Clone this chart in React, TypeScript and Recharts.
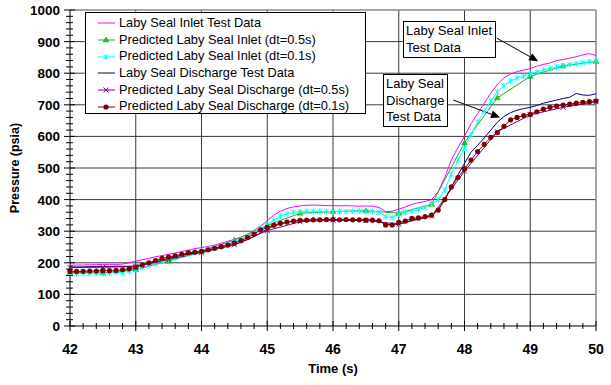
import { LineChart, Line, XAxis, YAxis, CartesianGrid, ReferenceLine } from 'recharts';

// time base (s) for test data and dt=0.1s predictions
const time = [
  42.0, 42.1, 42.2, 42.3, 42.4, 42.5, 42.6, 42.7, 42.8, 42.9,
  43.0, 43.1, 43.2, 43.3, 43.4, 43.5, 43.6, 43.7, 43.8, 43.9,
  44.0, 44.1, 44.2, 44.3, 44.4, 44.5, 44.6, 44.7, 44.8, 44.9,
  45.0, 45.1, 45.2, 45.3, 45.4, 45.5, 45.6, 45.7, 45.8, 45.9,
  46.0, 46.1, 46.2, 46.3, 46.4, 46.5, 46.6, 46.7, 46.8, 46.9,
  47.0, 47.1, 47.2, 47.3, 47.4, 47.5, 47.6, 47.7, 47.8, 47.9,
  48.0, 48.1, 48.2, 48.3, 48.4, 48.5, 48.6, 48.7, 48.8, 48.9,
  49.0, 49.1, 49.2, 49.3, 49.4, 49.5, 49.6, 49.7, 49.8, 49.9,
  50.0,
];

const inletTest = [
  192, 193, 193, 194, 194, 195, 195, 195, 196, 200,
  205, 210, 214, 219, 223, 227, 231, 236, 240, 245,
  248, 252, 256, 262, 268, 274, 281, 290, 302, 316,
  333, 351, 363, 372, 377, 380, 382, 383, 382, 381,
  381, 380, 381, 380, 379, 380, 379, 375, 362, 363,
  370, 377, 385, 390, 394, 400, 425, 470, 525, 565,
  600, 640, 672, 705, 737, 765, 785, 797, 805, 810,
  815, 822, 828, 832, 840, 843, 848, 852, 858, 862,
  856,
];

const inletPred01 = [
  166, 166, 167, 167, 168, 168, 168, 169, 170, 173,
  178, 185, 192, 199, 205, 211, 216, 222, 228, 233,
  237, 242, 247, 252, 258, 265, 273, 283, 295, 307,
  320, 335, 348, 355, 360, 362, 363, 363, 363, 362,
  362, 363, 362, 363, 364, 363, 363, 360, 346, 343,
  355, 360, 363, 368, 375, 385, 400, 430, 480, 525,
  562, 605, 645, 680, 712, 740, 760, 775, 785, 790,
  797, 804, 810, 815, 820, 824, 828, 830, 833, 836,
  838,
];

const dischTest = [
  187, 187, 187, 188, 188, 188, 188, 189, 189, 189,
  190, 194, 199, 203, 208, 214, 219, 224, 228, 231,
  233, 238, 243, 248, 253, 258, 265, 273, 283, 295,
  307, 316, 323, 328, 332, 334, 335, 336, 336, 335,
  336, 335, 336, 335, 336, 335, 335, 333, 322, 320,
  322, 328, 335, 340, 344, 350, 368, 400, 440, 478,
  515, 550, 572, 595, 620, 645, 663, 675, 683, 688,
  692, 698, 705, 710, 715, 720, 724, 736, 731, 730,
  735,
];

const dischPred01 = [
  173, 173, 173, 174, 174, 175, 175, 176, 178, 181,
  186, 193, 200, 207, 214, 218, 222, 227, 232, 234,
  236, 241, 246, 251, 256, 262, 270, 280, 291, 304,
  312, 319, 325, 329, 332, 334, 335, 336, 336, 337,
  337, 336, 337, 336, 336, 335, 335, 333, 320, 320,
  328, 332, 341, 342, 346, 351, 367, 400, 440, 470,
  497, 525, 552, 575, 597, 612, 632, 652, 660, 666,
  670, 678, 686, 692, 696, 699, 702, 705, 708, 710,
  712,
];

// dt=0.5s predictions
const time05 = [42, 42.5, 43, 43.5, 44, 44.5, 45, 45.5, 46, 46.5, 47, 47.5, 48, 48.5, 49, 49.5, 50];
const inletPred05 = [170, 168, 179, 205, 238, 272, 318, 357, 362, 365, 357, 385, 580, 722, 790, 823, 837];
const dischPred05 = [185, 186, 188, 210, 232, 257, 302, 330, 335, 334, 322, 348, 490, 615, 668, 692, 710];

const xMajor = [42, 43, 44, 45, 46, 47, 48, 49, 50];
const yMajor = [0, 100, 200, 300, 400, 500, 600, 700, 800, 900, 1000];

const seriesNames = [
  'Laby Seal Inlet Test Data',
  'Predicted Laby Seal Inlet (dt=0.5s)',
  'Predicted Laby Seal Inlet (dt=0.1s)',
  'Laby Seal Discharge Test Data',
  'Predicted Laby Seal Discharge (dt=0.5s)',
  'Predicted Laby Seal Discharge (dt=0.1s)',
];

const fineData = time.map((t, i) => ({
  t,
  inletTest: inletTest[i],
  inletPred01: inletPred01[i],
  dischTest: dischTest[i],
  dischPred01: dischPred01[i],
}));

const coarseData = time05.map((t, i) => ({
  t,
  inletPred05: inletPred05[i],
  dischPred05: dischPred05[i],
}));

// minor ticks every 0.2 s / 20 psia
const xTicks = xMajor.slice(0, -1).flatMap((m) => [0, 0.2, 0.4, 0.6, 0.8].map((d) => Math.round((m + d) * 10) / 10)).concat([50]);
const yTicks = yMajor.slice(0, -1).flatMap((m) => [0, 20, 40, 60, 80].map((d) => m + d)).concat([1000]);

const FONT = '"Liberation Sans", Arial, sans-serif';
const MAGENTA = '#ff00ff';
const GREEN = '#22aa22';
const CYAN = '#00ffff';
const NAVY = '#000080';
const PURPLE = '#800080';
const MAROON = '#800000';

function Triangle({ cx, cy }: any) {
  return <polygon points={`${cx},${cy - 3} ${cx - 3},${cy + 2} ${cx + 3},${cy + 2}`} fill="#11cc11" stroke={GREEN} strokeWidth={0.5} />;
}

function Star({ cx, cy }: any) {
  return (
    <g stroke={CYAN} strokeWidth={1}>
      <line x1={cx - 2.5} y1={cy - 2.5} x2={cx + 2.5} y2={cy + 2.5} />
      <line x1={cx - 2.5} y1={cy + 2.5} x2={cx + 2.5} y2={cy - 2.5} />
      <line x1={cx} y1={cy - 3} x2={cx} y2={cy + 3} />
    </g>
  );
}

function Cross({ cx, cy }: any) {
  return (
    <g stroke={PURPLE} strokeWidth={1}>
      <line x1={cx - 2.5} y1={cy - 2.5} x2={cx + 2.5} y2={cy + 2.5} />
      <line x1={cx - 2.5} y1={cy + 2.5} x2={cx + 2.5} y2={cy - 2.5} />
    </g>
  );
}

function Dot({ cx, cy }: any) {
  return <circle cx={cx} cy={cy} r={2.6} fill={MAROON} />;
}

function XTick({ x, y, payload }: any) {
  const v = payload.value;
  const major = Math.abs(v - Math.round(v)) < 1e-6;
  return (
    <g>
      <line x1={x} x2={x} y1={y - (major ? 5 : 3)} y2={y + (major ? 5 : 3)} stroke="#000" />
      {major && (
        <text x={x} y={y + 28} textAnchor="middle" fontFamily={FONT} fontWeight="bold" fontSize={14} fill="#000">
          {Math.round(v)}
        </text>
      )}
    </g>
  );
}

function YTick({ x, y, payload }: any) {
  const v = payload.value;
  const major = v % 100 === 0;
  return (
    <g>
      <line x1={x - (major ? 6 : 4)} x2={x + (major ? 5 : 3)} y1={y} y2={y} stroke="#000" />
      {major && (
        <text x={x - 10} y={y + 5} textAnchor="end" fontFamily={FONT} fontWeight="bold" fontSize={13.5} fill="#000">
          {v}
        </text>
      )}
    </g>
  );
}

function Arrow(props: any) {
  const { x1, y1, x2, y2 } = props;
  const a = Math.atan2(y2 - y1, x2 - x1);
  const len = 9;
  const w = 4;
  const bx = x2 - len * Math.cos(a);
  const by = y2 - len * Math.sin(a);
  const px = -Math.sin(a) * w;
  const py = Math.cos(a) * w;
  return (
    <g>
      <line x1={x1} y1={y1} x2={bx} y2={by} stroke="#000" strokeWidth={1} />
      <polygon points={`${x2},${y2} ${bx + px},${by + py} ${bx - px},${by - py}`} fill="#000" />
    </g>
  );
}

function LegendIcon({ index }: { index: number }) {
  const colors = [MAGENTA, GREEN, CYAN, NAVY, PURPLE, MAROON];
  const cx = 8;
  const cy = 6;
  return (
    <svg width={18} height={12} style={{ display: 'block' }}>
      <line x1={0} x2={17} y1={cy} y2={cy} stroke={colors[index]} strokeWidth={1} />
      {index === 1 && <Triangle cx={cx} cy={cy} />}
      {index === 2 && <Star cx={cx} cy={cy} />}
      {index === 4 && <Cross cx={cx} cy={cy} />}
      {index === 5 && <Dot cx={cx} cy={cy} />}
    </svg>
  );
}

const boxStyle: React.CSSProperties = {
  position: 'absolute',
  background: '#fff',
  border: '1px solid #000',
  fontFamily: FONT,
  fontSize: 13,
  lineHeight: '16.7px',
  color: '#000',
  boxSizing: 'border-box',
  whiteSpace: 'nowrap',
};

export default function App() {
  return (
    <div style={{ position: 'absolute', left: 0, top: 0, width: 611, height: 385, background: '#fff' }}>
      <LineChart width={611} height={385} data={fineData} margin={{ top: 10, right: 15, left: 0, bottom: 9 }}>
        <CartesianGrid horizontalValues={yMajor.slice(1, -1)} verticalValues={xMajor.slice(1, -1)} stroke="#3a3a3a" strokeWidth={1} />
        <ReferenceLine y={1000} stroke="#888" strokeWidth={1.5} />
        <ReferenceLine x={50} stroke="#888" strokeWidth={1.5} />
        <XAxis
          dataKey="t"
          type="number"
          domain={[42, 50]}
          ticks={xTicks}
          interval={0}
          tickSize={0}
          tickMargin={0}
          tickLine={false}
          tick={(p: any) => <XTick key={p.index} {...p} />}
          axisLine={{ stroke: '#000' }}
          height={50}
          label={{ value: 'Time (s)', position: 'insideBottom', offset: 3, fontFamily: FONT, fontWeight: 'bold', fontSize: 13, fill: '#000' }}
        />
        <YAxis
          type="number"
          domain={[0, 1000]}
          ticks={yTicks}
          interval={0}
          tickSize={0}
          tickMargin={0}
          tickLine={false}
          tick={(p: any) => <YTick key={p.index} {...p} />}
          axisLine={{ stroke: '#000' }}
          width={70}
          label={{ value: 'Pressure (psia)', angle: -90, position: 'insideLeft', offset: 15, style: { textAnchor: 'middle' }, fontFamily: FONT, fontWeight: 'bold', fontSize: 12.5, fill: '#000' }}
        />
        <Line dataKey="inletTest" stroke={MAGENTA} strokeWidth={1} dot={false} isAnimationActive={false} />
        <Line data={coarseData} dataKey="inletPred05" stroke={GREEN} strokeWidth={1} dot={(p: any) => <Triangle key={p.index} cx={p.cx} cy={p.cy} />} isAnimationActive={false} />
        <Line dataKey="inletPred01" stroke={CYAN} strokeWidth={1} dot={(p: any) => <Star key={p.index} cx={p.cx} cy={p.cy} />} isAnimationActive={false} />
        <Line dataKey="dischTest" stroke={NAVY} strokeWidth={1} dot={false} isAnimationActive={false} />
        <Line data={coarseData} dataKey="dischPred05" stroke={PURPLE} strokeWidth={1} dot={(p: any) => <Cross key={p.index} cx={p.cx} cy={p.cy} />} isAnimationActive={false} />
        <Line dataKey="dischPred01" stroke={MAROON} strokeWidth={1} dot={(p: any) => <Dot key={p.index} cx={p.cx} cy={p.cy} />} isAnimationActive={false} />
        <ReferenceLine segment={[{ x: 48.49, y: 911 }, { x: 49.12, y: 838 }]} shape={(p: any) => <Arrow {...p} />} />
        <ReferenceLine segment={[{ x: 47.83, y: 715 }, { x: 48.54, y: 660 }]} shape={(p: any) => <Arrow {...p} />} />
      </LineChart>

      <div style={{ ...boxStyle, left: 85, top: 12, width: 281, height: 102, paddingTop: 2, overflow: 'hidden', fontSize: 12.8 }}>
        {seriesNames.map((name, i) => (
          <div key={name} style={{ display: 'flex', alignItems: 'center', height: 16.7 }}>
            <div style={{ width: 12 }} />
            <LegendIcon index={i} />
            <span style={{ marginLeft: 3 }}>{name}</span>
          </div>
        ))}
      </div>

      <div style={{ ...boxStyle, left: 403, top: 21, width: 93, height: 37, paddingLeft: 2, paddingTop: 1 }}>
        <div>Laby Seal Inlet</div>
        <div>Test Data</div>
      </div>
      <div style={{ ...boxStyle, left: 383, top: 74, width: 65, height: 53, paddingLeft: 2, paddingTop: 1 }}>
        <div>Laby Seal</div>
        <div>Discharge</div>
        <div>Test Data</div>
      </div>
    </div>
  );
}
